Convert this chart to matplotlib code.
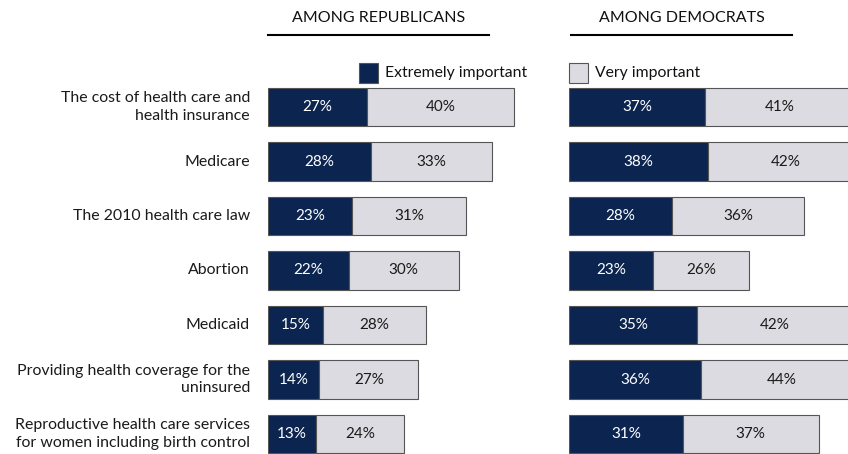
import matplotlib.pyplot as plt
from matplotlib.patches import Rectangle

plt.rcParams["font.family"] = ["Lato", "DejaVu Sans"]

issues = [
    "The cost of health care and\nhealth insurance",
    "Medicare",
    "The 2010 health care law",
    "Abortion",
    "Medicaid",
    "Providing health coverage for the\nuninsured",
    "Reproductive health care services\nfor women including birth control",
]
rep_extreme = [27, 28, 23, 22, 15, 14, 13]
rep_very = [40, 33, 31, 30, 28, 27, 24]
dem_extreme = [37, 38, 28, 23, 35, 36, 31]
dem_very = [41, 42, 36, 26, 42, 44, 37]

dark = "#0b2550"
light = "#dcdbe1"
edge = "#555555"

W, H = 848, 454
fig = plt.figure(figsize=(W / 100, H / 100), dpi=100)

px = 3.67  # pixels per percentage point
row_gap = 54.5
first_row = 107
ylim = ((H - first_row) / row_gap, -first_row / row_gap)


def panel(left, right, extreme, very):
    ax = fig.add_axes([left / W, 0, (right - left) / W, 1])
    ax.set_xlim(0, (right - left) / px)
    ax.set_ylim(*ylim)
    ax.axis("off")
    y = list(range(len(extreme)))
    ax.barh(y, extreme, height=0.7, color=dark, edgecolor=edge, linewidth=0.8)
    ax.barh(y, very, left=extreme, height=0.7, color=light, edgecolor=edge, linewidth=0.8)
    for i in y:
        ax.text(extreme[i] / 2, i, f"{extreme[i]}%", color="white", ha="center",
                va="center", fontsize=11)
        ax.text(extreme[i] + very[i] / 2, i, f"{very[i]}%", color="#1a1a1a",
                ha="center", va="center", fontsize=11)
    return ax


ax_rep = panel(268, 568, rep_extreme, rep_very)
ax_dem = panel(569, 848, dem_extreme, dem_very)

for i, label in enumerate(issues):
    ax_rep.text(-18 / px, i, label, ha="right", va="center", fontsize=11.4,
                color="#1a1a1a", linespacing=1.32)

# panel headers with underline
for x0, x1, title in [(268, 489, "AMONG REPUBLICANS"), (571, 792, "AMONG DEMOCRATS")]:
    fig.text((x0 + x1) / 2 / W, 1 - 18 / H, title, ha="center", va="center",
             fontsize=11.5, color="#111111")
    fig.add_artist(plt.Line2D([x0 / W, x1 / W], [1 - 35 / H, 1 - 35 / H],
                              color="black", linewidth=1.5))

# legend
for x, color, label in [(359, dark, "Extremely important"), (569, light, "Very important")]:
    fig.add_artist(Rectangle((x / W, 1 - 83 / H), 19 / W, 20 / H, facecolor=color,
                             edgecolor=edge, linewidth=0.8, transform=fig.transFigure))
    fig.text((x + 26) / W, 1 - 73 / H, label, ha="left", va="center",
             fontsize=11.3, color="#111111")

fig.savefig("out.png", dpi=100)
